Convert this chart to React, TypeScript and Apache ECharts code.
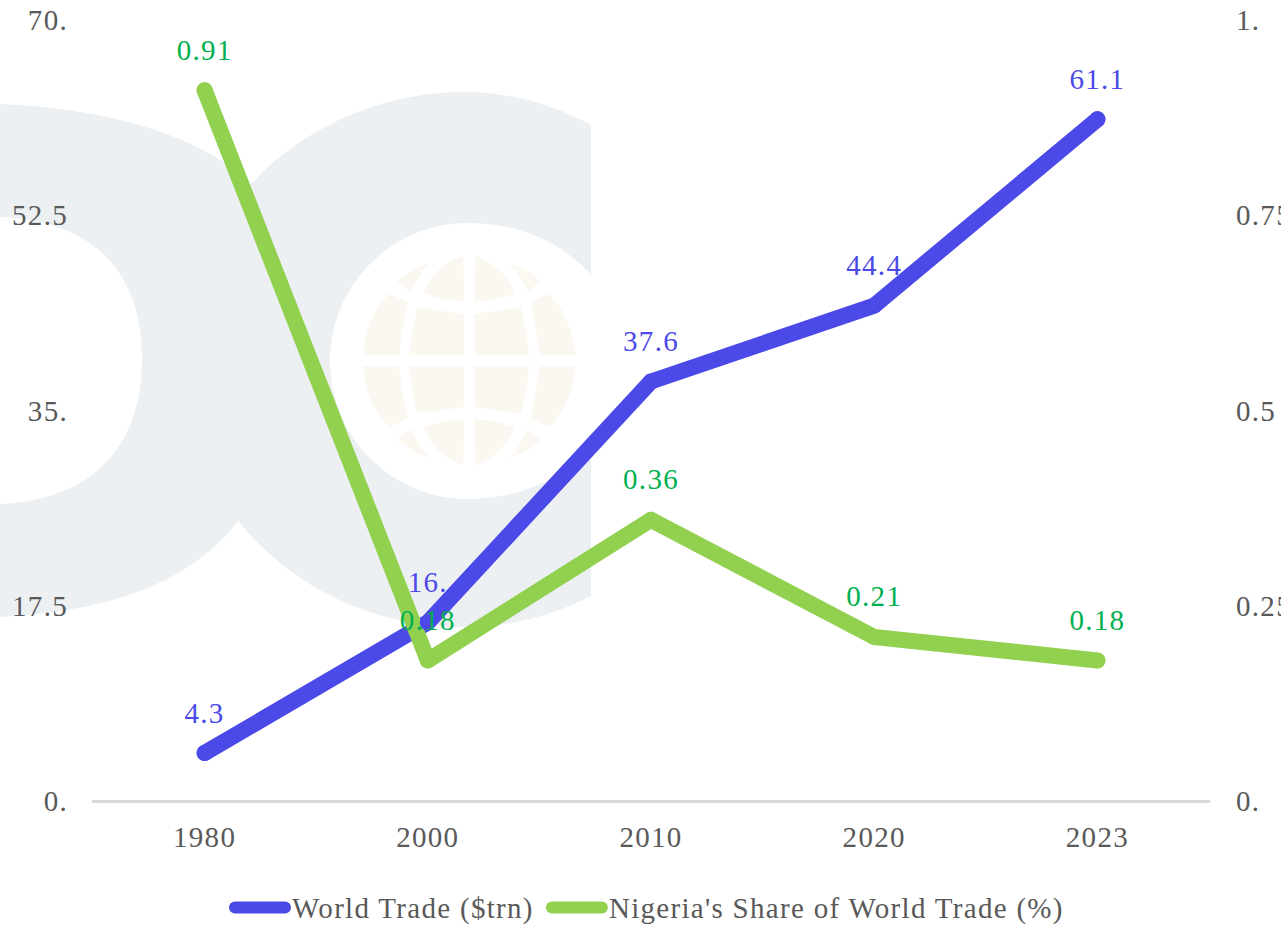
import React, { useEffect, useRef } from "react";
import * as echarts from "echarts";

const years = ["1980", "2000", "2010", "2020", "2023"];
const worldTrade = [4.3, 16, 37.6, 44.4, 61.1];
const nigeriaShare = [0.91, 0.18, 0.36, 0.21, 0.18];
const tradeName = "World Trade ($trn)";
const shareName = "Nigeria's Share of World Trade (%)";

const logoPath =
  "M0 104 C95 108 195 130 251 184 C305 125 385 92 465 92 C510 92 555 105 591 125 L591 275 C560 240 515 223 468 223 C392 223 330 285 330 361 C330 437 392 499 468 499 C515 499 560 482 591 447 L591 596 C555 615 510 627 465 627 C375 627 295 590 238 521 C185 590 95 612 0 617 L0 504 C90 500 142 450 142 358 C142 270 90 220 0 217 Z";
const globeQuadrant =
  "M172 155 Q215 115 267 100 Q235 135 213 185 Z M370 78 L373 215 Q310 215 250 190 Q285 105 370 78 Z M148 192 L205 218 Q185 290 178 375 L68 375 Q80 260 148 192 Z M233 232 L372 252 L373 375 L208 375 Q215 300 233 232 Z";

const gfx = echarts.graphic as any;
gfx.registerShape("dcLogo", gfx.extendPath(logoPath, {}));
gfx.registerShape("globeQuad", gfx.extendPath(globeQuadrant, {}));

const FONT = "Liberation Serif";
const SIZE = 29;
const BLUE = "#4b49e8";
const GREEN = "#92d050";
const GREY = "#595959";
const pillIcon = "path://M6 0H56A6 6 0 0 1 56 12H6A6 6 0 0 1 6 0Z";
const dotted = (v: number) => (Number.isInteger(v) ? `${v}.` : `${v}`);

export default function App() {
  const ref = useRef<HTMLDivElement>(null);
  useEffect(() => {
    const chart = echarts.init(ref.current!, undefined, { renderer: "svg" });
    const quad = (flipX: boolean, flipY: boolean) => ({
      type: "globeQuad",
      x: flipX ? 340 + 775 / 3 : 340,
      y: flipY ? 230 + 783 / 3 : 230,
      scaleX: flipX ? -1 / 3 : 1 / 3,
      scaleY: flipY ? -1 / 3 : 1 / 3,
      z: -1,
      silent: true,
      style: { fill: "#faf8f1" },
    });
    const labelOf = (color: string) => ({
      show: true,
      position: "top" as const,
      distance: 18,
      fontFamily: FONT,
      fontSize: SIZE,
      color,
      formatter: (p: any) => dotted(p.value),
    });
    chart.setOption({
      animation: false,
      backgroundColor: "#ffffff",
      textStyle: { fontFamily: FONT },
      graphic: [
        { type: "dcLogo", x: 0, y: 0, z: -1, silent: true, style: { fill: "#edf0f3" } },
        quad(false, false),
        quad(true, false),
        quad(false, true),
        quad(true, true),
      ],
      grid: { left: 93, right: 72, top: 20, bottom: 128, outerBoundsMode: "none" },
      legend: {
        left: 229,
        top: 893,
        padding: 0,
        itemWidth: 62,
        itemHeight: 12,
        itemGap: 35,
        icon: pillIcon,
        textStyle: { fontFamily: FONT, fontSize: SIZE, color: GREY, padding: [0, 0, 0, -4] },
        data: [tradeName, shareName],
      },
      xAxis: {
        type: "category",
        data: years,
        axisLine: { lineStyle: { color: "#d9d9d9", width: 3 } },
        axisTick: { show: false },
        axisLabel: { fontFamily: FONT, fontSize: SIZE, color: GREY, margin: 21 },
      },
      yAxis: [
        {
          type: "value",
          min: 0,
          max: 70,
          interval: 17.5,
          splitLine: { show: false },
          axisLine: { show: false },
          axisTick: { show: false },
          axisLabel: { fontFamily: FONT, fontSize: SIZE, color: GREY, margin: 25, formatter: dotted },
        },
        {
          type: "value",
          min: 0,
          max: 1,
          interval: 0.25,
          splitLine: { show: false },
          axisLine: { show: false },
          axisTick: { show: false },
          axisLabel: { fontFamily: FONT, fontSize: SIZE, color: GREY, margin: 27, formatter: dotted },
        },
      ],
      series: [
        {
          name: tradeName,
          type: "line",
          yAxisIndex: 0,
          data: worldTrade,
          symbol: "circle",
          symbolSize: 16,
          lineStyle: { color: BLUE, width: 16, cap: "round", join: "round" },
          itemStyle: { color: BLUE },
          label: labelOf(BLUE),
        },
        {
          name: shareName,
          type: "line",
          yAxisIndex: 1,
          data: nigeriaShare,
          symbol: "circle",
          symbolSize: 16,
          lineStyle: { color: GREEN, width: 16, cap: "round", join: "round" },
          itemStyle: { color: GREEN },
          label: labelOf("#00b050"),
        },
      ],
    });
    return () => chart.dispose();
  }, []);
  return (
    <div
      ref={ref}
      style={{ position: "absolute", left: 0, top: 0, width: 1281, height: 929, overflow: "hidden", letterSpacing: "1.3px" }}
    />
  );
}
